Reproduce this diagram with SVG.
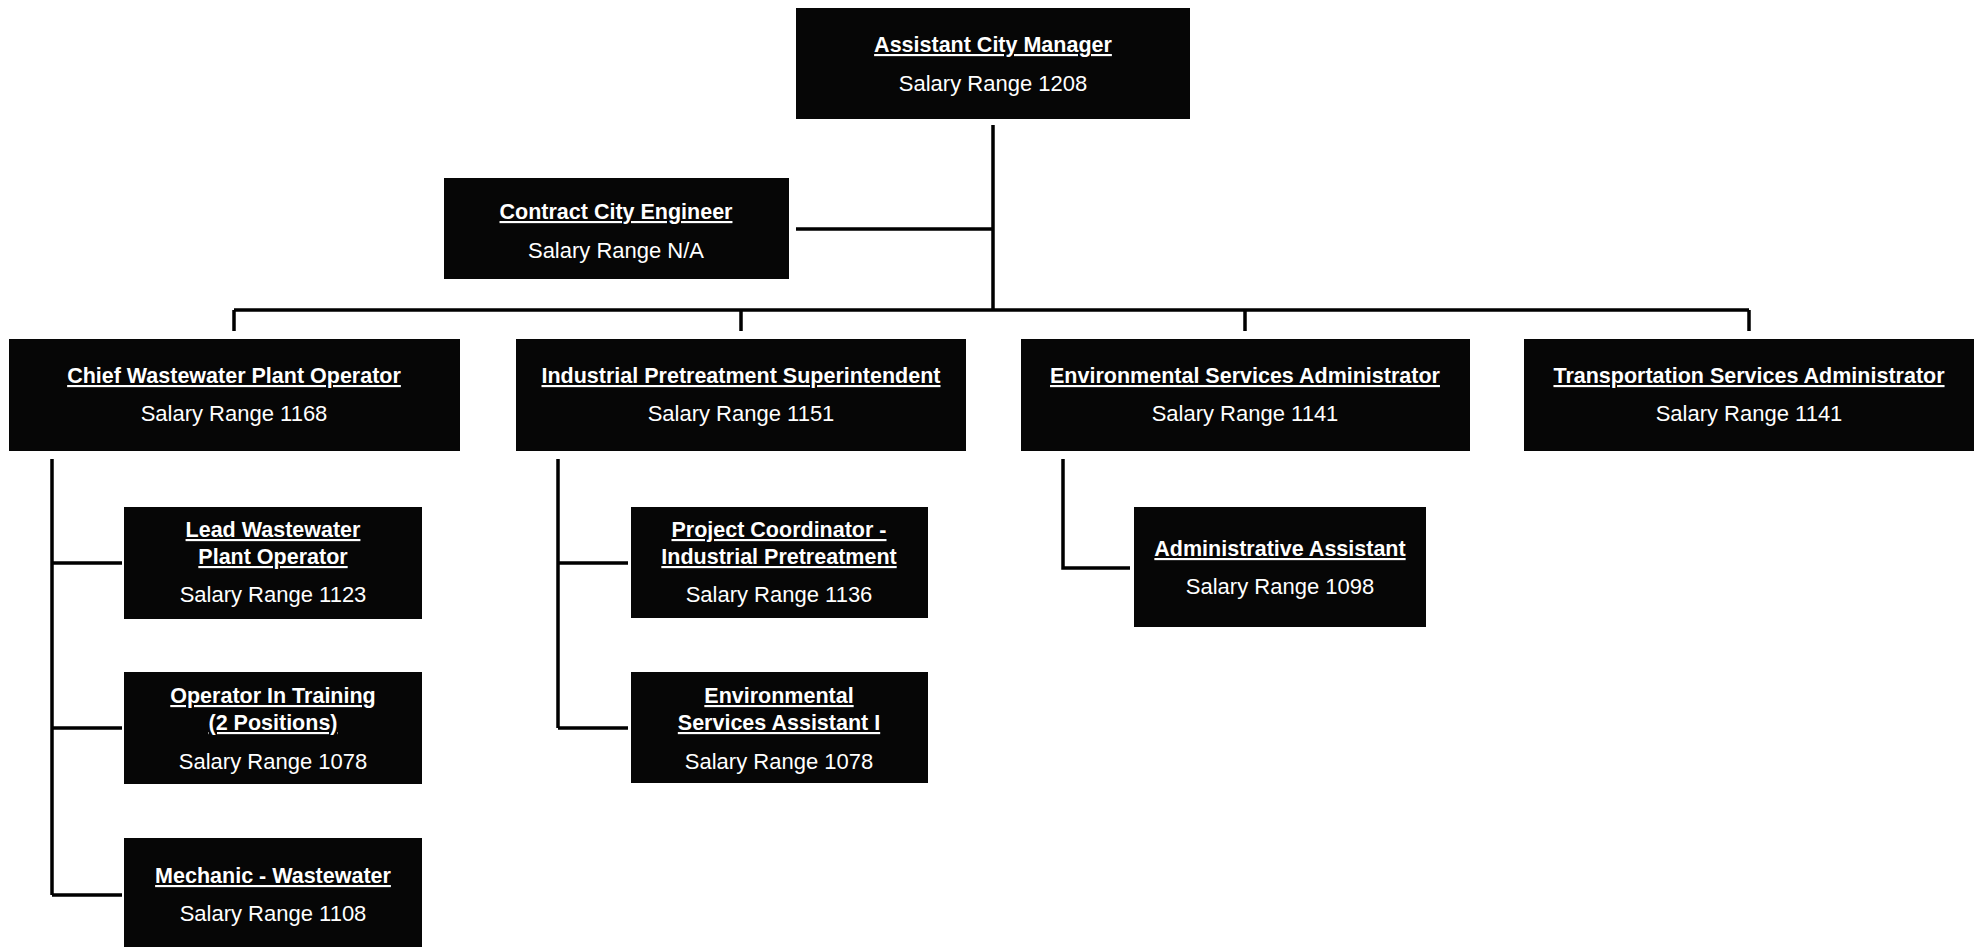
<svg xmlns="http://www.w3.org/2000/svg" width="1982" height="947" viewBox="0 0 1982 947">
<style>
.box{fill:#060606}
.t{font-family:"Liberation Sans",Arial,sans-serif;font-weight:bold;font-size:21.5px;fill:#fff;text-anchor:middle;text-decoration:underline}
.s{font-family:"Liberation Sans",Arial,sans-serif;font-size:22px;fill:#fff;text-anchor:middle}
.c{fill:none;stroke:#000;stroke-width:3.5}
</style>
<rect width="1982" height="947" fill="#fff"/>
<g id="connectors">
<path class="c" d="M993 125V310M796 229H993M234 310H1749M234 310V331M741 310V331M1245 310V331M1749 310V331"/>
<path class="c" d="M52 459V895M52 563H122M52 728H122M52 895H122"/>
<path class="c" d="M558 459V728M558 563H628M558 728H628"/>
<path class="c" d="M1063 459V568H1130"/>
</g>
<g id="assistant-city-manager"><rect class="box" x="796" y="8" width="394" height="111"/><text class="t" x="993" y="52">Assistant City Manager</text><text class="s" x="993" y="91">Salary Range 1208</text></g>
<g id="contract-city-engineer"><rect class="box" x="444" y="178" width="345" height="101"/><text class="t" x="616" y="219">Contract City Engineer</text><text class="s" x="616" y="258">Salary Range N/A</text></g>
<g id="chief-wastewater"><rect class="box" x="9" y="339" width="451" height="112"/><text class="t" x="234" y="383">Chief Wastewater Plant Operator</text><text class="s" x="234" y="421">Salary Range 1168</text></g>
<g id="industrial-pretreatment"><rect class="box" x="516" y="339" width="450" height="112"/><text class="t" x="741" y="383">Industrial Pretreatment Superintendent</text><text class="s" x="741" y="421">Salary Range 1151</text></g>
<g id="environmental-services"><rect class="box" x="1021" y="339" width="449" height="112"/><text class="t" x="1245" y="383">Environmental Services Administrator</text><text class="s" x="1245" y="421">Salary Range 1141</text></g>
<g id="transportation-services"><rect class="box" x="1524" y="339" width="450" height="112"/><text class="t" x="1749" y="383">Transportation Services Administrator</text><text class="s" x="1749" y="421">Salary Range 1141</text></g>
<g id="lead-wastewater"><rect class="box" x="124" y="507" width="298" height="112"/><text class="t" x="273" y="537">Lead Wastewater</text><text class="t" x="273" y="564">Plant Operator</text><text class="s" x="273" y="602">Salary Range 1123</text></g>
<g id="operator-in-training"><rect class="box" x="124" y="672" width="298" height="112"/><text class="t" x="273" y="703">Operator In Training</text><text class="t" x="273" y="730">(2 Positions)</text><text class="s" x="273" y="769">Salary Range 1078</text></g>
<g id="mechanic-wastewater"><rect class="box" x="124" y="838" width="298" height="112"/><text class="t" x="273" y="883">Mechanic - Wastewater</text><text class="s" x="273" y="921">Salary Range 1108</text></g>
<g id="project-coordinator"><rect class="box" x="631" y="507" width="297" height="111"/><text class="t" x="779" y="537">Project Coordinator -</text><text class="t" x="779" y="564">Industrial Pretreatment</text><text class="s" x="779" y="602">Salary Range 1136</text></g>
<g id="env-services-assistant"><rect class="box" x="631" y="672" width="297" height="111"/><text class="t" x="779" y="703">Environmental</text><text class="t" x="779" y="730">Services Assistant I</text><text class="s" x="779" y="769">Salary Range 1078</text></g>
<g id="administrative-assistant"><rect class="box" x="1134" y="507" width="292" height="120"/><text class="t" x="1280" y="556">Administrative Assistant</text><text class="s" x="1280" y="594">Salary Range 1098</text></g>
</svg>
